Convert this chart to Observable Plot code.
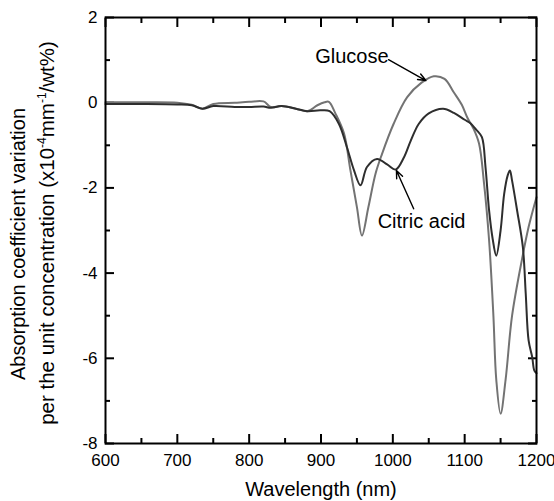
<!DOCTYPE html>
<html><head><meta charset="utf-8">
<script src="https://cdn.jsdelivr.net/npm/d3@7"></script>
<script src="https://cdn.jsdelivr.net/npm/@observablehq/plot@0.6"></script>
<style>
body{margin:0;background:#fff;}
#chart{width:554px;height:501px;}
</style></head><body><div id="chart"></div>
<script>
// Glucose spectrum (wavelength nm, value)
const glucoseWl  = [600, 650, 700, 720, 735, 750, 780, 800, 820, 830, 845, 865, 881, 895, 905, 911, 920, 932, 941, 950, 957, 966, 976, 985, 1001, 1020, 1040, 1057, 1072, 1085, 1096, 1104, 1112, 1120, 1127, 1134, 1140, 1144, 1150, 1157, 1166, 1180, 1189, 1200];
const glucoseVal = [0.01, 0.01, 0.0, -0.05, -0.14, -0.03, 0.0, 0.02, 0.03, -0.1, -0.08, -0.14, -0.2, -0.06, 0.01, 0.02, -0.25, -0.72, -1.59, -2.45, -3.12, -2.45, -1.66, -1.2, -0.5, 0.13, 0.47, 0.62, 0.56, 0.24, -0.05, -0.36, -0.6, -0.96, -1.9, -3.23, -5.0, -6.5, -7.3, -6.5, -5.0, -3.66, -2.92, -2.22];
// Citric acid spectrum
const citricWl  = [600, 650, 700, 720, 735, 750, 780, 800, 820, 830, 845, 865, 881, 899, 912, 925, 936, 946, 955, 964, 978, 992, 1004, 1015, 1025, 1036, 1050, 1070, 1085, 1100, 1108, 1117, 1124, 1129, 1134, 1139, 1144, 1150, 1155, 1160, 1163, 1166, 1173, 1181, 1185, 1189, 1194, 1197, 1200];
const citricVal = [-0.03, -0.03, -0.04, -0.06, -0.14, -0.08, -0.1, -0.1, -0.09, -0.12, -0.08, -0.14, -0.2, -0.18, -0.2, -0.5, -1.04, -1.59, -1.94, -1.51, -1.32, -1.45, -1.57, -1.3, -0.89, -0.5, -0.25, -0.14, -0.24, -0.4, -0.48, -0.65, -0.81, -1.51, -2.53, -3.2, -3.59, -3.0, -2.14, -1.7, -1.59, -1.83, -2.53, -3.39, -4.48, -5.58, -5.97, -6.29, -6.35];

const xMajor = [600, 700, 800, 900, 1000, 1100, 1200];
const xMinor = [650, 750, 850, 950, 1050, 1150];
const yMajor = [-8, -6, -4, -2, 0, 2];
const yMinor = [-7, -5, -3, -1, 1];

const annotations = [
  {text: "Glucose", x: 943, y: 1.08},
  {text: "Citric acid", x: 1040, y: -2.79}
];
const arrows = [
  {x1: 994, y1: 1.01, x2: 1046, y2: 0.52},
  {x1: 1029, y1: -2.49, x2: 1005, y2: -1.59}
];
const xTitle = "Wavelength (nm)";
const yTitle1 = "Absorption coefficient variation";

const rows = [
  ...glucoseWl.map((w, i) => ({series: "Glucose", wl: w, v: glucoseVal[i]})),
  ...citricWl.map((w, i) => ({series: "Citric acid", wl: w, v: citricVal[i]}))
];

// tick-mark-only axes (no labels), drawn inward
const tk = {stroke: "#000", strokeWidth: 2, tickFormat: () => "", label: null, tickPadding: 0};

const font = "'Liberation Sans', Arial, Helvetica, sans-serif";
const plot = Plot.plot({
  width: 554, height: 501,
  marginLeft: 105, marginRight: 18, marginTop: 17, marginBottom: 58,
  style: {fontFamily: font, fontSize: "17px", color: "#000", background: "#fff"},
  x: {domain: [600, 1200]},
  y: {domain: [-8, 2]},
  marks: [
    // tick labels
    Plot.axisX({ticks: xMajor, tickSize: 0, tickPadding: 10, label: null, tickFormat: d => String(d), fontSize: 17}),
    Plot.axisY({ticks: yMajor, tickSize: 0, tickPadding: 8, label: null, tickFormat: d => String(d), fontSize: 17}),
    // inward tick marks on all four sides
    Plot.axisY(yMajor, {anchor: "left", tickSize: -9, ...tk}),
    Plot.axisY(yMinor, {anchor: "left", tickSize: -5, ...tk}),
    Plot.axisY(yMajor, {anchor: "right", tickSize: -9, ...tk}),
    Plot.axisY(yMinor, {anchor: "right", tickSize: -5, ...tk}),
    Plot.axisX(xMajor, {anchor: "bottom", tickSize: -9, ...tk}),
    Plot.axisX(xMinor, {anchor: "bottom", tickSize: -5, ...tk}),
    Plot.axisX(xMajor, {anchor: "top", tickSize: -9, ...tk}),
    Plot.axisX(xMinor, {anchor: "top", tickSize: -5, ...tk}),
    Plot.line(rows.filter(d => d.series === "Glucose"), {x: "wl", y: "v", stroke: "#737373", strokeWidth: 2, curve: "catmull-rom"}),
    Plot.line(rows.filter(d => d.series === "Citric acid"), {x: "wl", y: "v", stroke: "#2e2e2e", strokeWidth: 2, curve: "catmull-rom"}),
    Plot.frame({stroke: "#000", strokeWidth: 2}),
    Plot.arrow(arrows, {x1: "x1", y1: "y1", x2: "x2", y2: "y2", stroke: "#000", strokeWidth: 1.4, headLength: 9, headAngle: 45}),
    Plot.text(annotations, {x: "x", y: "y", text: "text", fontSize: 20, textAnchor: "middle", fill: "#000"}),
    Plot.text([xTitle], {frameAnchor: "bottom", dy: 52, fontSize: 20, fill: "#000"})
  ]
});

const svg = d3.select(plot);
const g = svg.append("g").attr("font-family", font).attr("text-anchor", "middle").attr("fill", "#000");
g.append("text").attr("font-size", 20).attr("transform", "translate(25,244) rotate(-90)").text(yTitle1);
const t2 = g.append("text").attr("font-size", 20.5).attr("transform", "translate(54,233) rotate(-90)");
t2.append("tspan").text("per the unit concentration (x10");
t2.append("tspan").attr("dy", -8).attr("font-size", 12).text("-4");
t2.append("tspan").attr("dy", 8).text("mm");
t2.append("tspan").attr("dy", -8).attr("font-size", 12).text("-1");
t2.append("tspan").attr("dy", 8).text("/wt%)");

document.getElementById("chart").appendChild(plot);
</script>
</body></html>
